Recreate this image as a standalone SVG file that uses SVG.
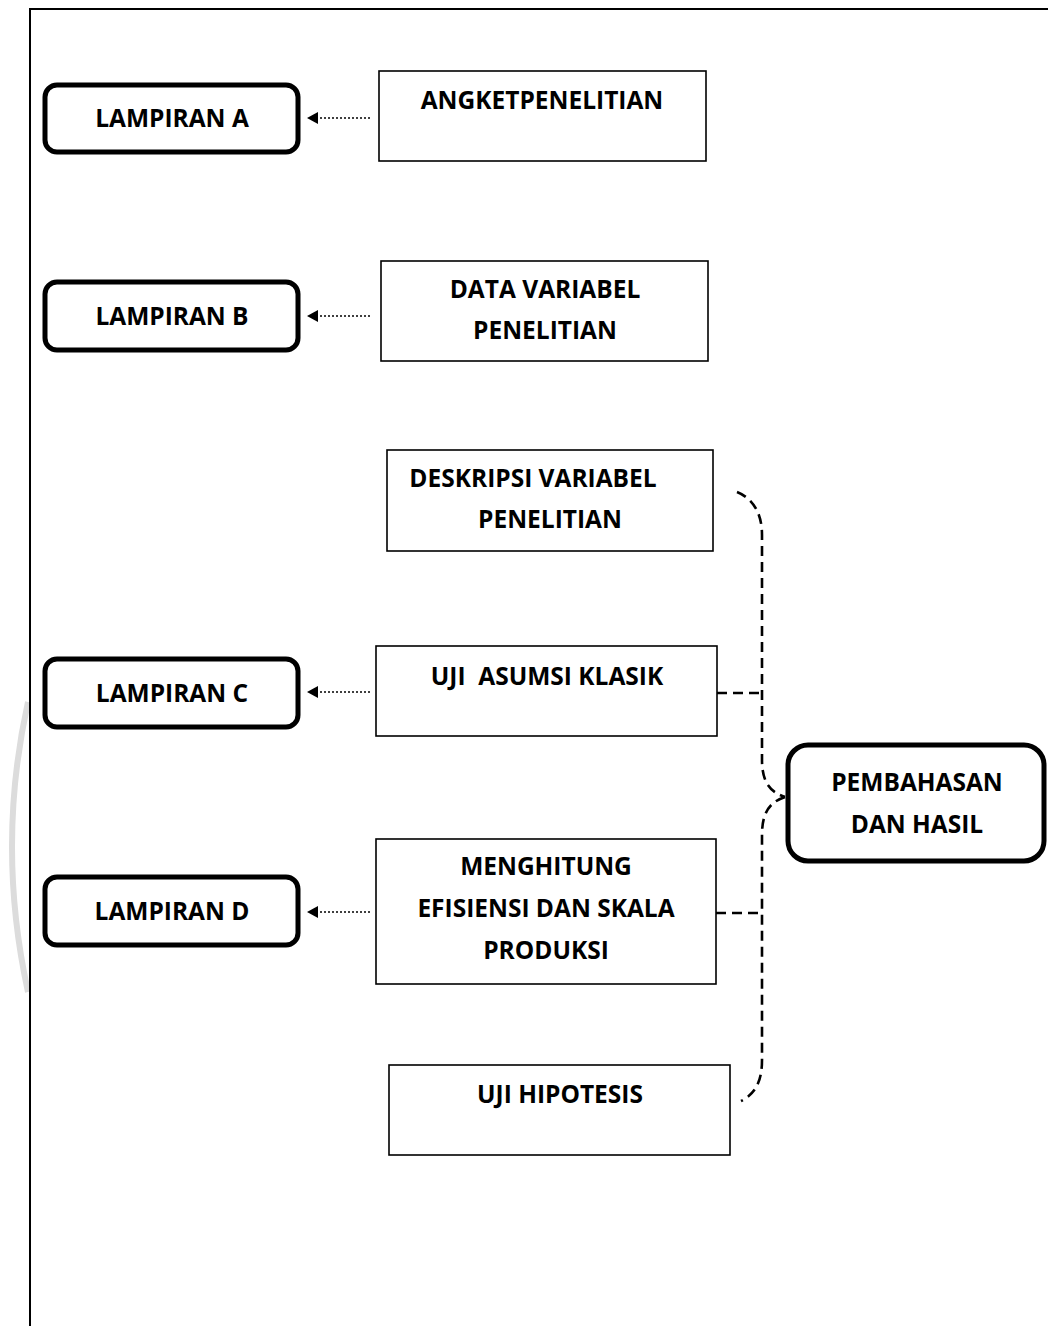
<svg xmlns="http://www.w3.org/2000/svg" width="1048" height="1326" viewBox="0 0 1048 1326">
<defs>
<style>
.lamp{fill:#fff;stroke:#000;stroke-width:5}
.box{fill:#fff;stroke:#000;stroke-width:1.6}
.t{font-family:"Open Sans",Lato,"Liberation Sans",sans-serif;font-weight:bold;font-size:24.5px;fill:#000;text-anchor:middle}
.dot{fill:none;stroke:#000;stroke-width:1.6;stroke-dasharray:2 2}
.dash{fill:none;stroke:#000;stroke-width:2.6;stroke-dasharray:10 6}
</style>
</defs>
<rect width="1048" height="1326" fill="#fff"/>
<path d="M28,702 Q-4,846 28,992" fill="none" stroke="#dcdcdc" stroke-width="6"/>
<path d="M30,1326 L30,9 L1048,9" fill="none" stroke="#000" stroke-width="2"/>

<g id="connectors">
<path class="dot" d="M370,118 L314,118"/><path d="M318,112 L307,118 L318,124 Z"/>
<path class="dot" d="M370,316 L314,316"/><path d="M318,310 L307,316 L318,322 Z"/>
<path class="dot" d="M370,692 L314,692"/><path d="M318,686 L307,692 L318,698 Z"/>
<path class="dot" d="M370,912 L314,912"/><path d="M318,906 L307,912 L318,918 Z"/>
<path class="dash" d="M737,492 C752,498 762,512 762,535 L762,760 C762,782 770,792 785,797"/>
<path class="dash" d="M785,797 C770,802 762,812 762,835 L762,1060 C762,1082 755,1094 741,1101"/>
<path class="dash" d="M717,693 L762,693"/>
<path class="dash" d="M716,913 L762,913"/>
</g>

<g id="lampiran-a"><rect class="lamp" x="45" y="85" width="253" height="67" rx="12"/><text class="t" x="172" y="127">LAMPIRAN A</text></g>
<g id="angket"><rect class="box" x="379" y="71" width="327" height="90"/><text class="t" x="542" y="109">ANGKETPENELITIAN</text></g>
<g id="lampiran-b"><rect class="lamp" x="45" y="282" width="253" height="68" rx="12"/><text class="t" x="172" y="325">LAMPIRAN B</text></g>
<g id="data-variabel"><rect class="box" x="381" y="261" width="327" height="100"/><text class="t" x="545" y="298">DATA VARIABEL</text><text class="t" x="545" y="339">PENELITIAN</text></g>
<g id="deskripsi"><rect class="box" x="387" y="450" width="326" height="101"/><text class="t" x="533" y="487">DESKRIPSI VARIABEL</text><text class="t" x="550" y="528">PENELITIAN</text></g>
<g id="uji-asumsi"><rect class="box" x="376" y="646" width="341" height="90"/><text class="t" x="547" y="685" xml:space="preserve">UJI  ASUMSI KLASIK</text></g>
<g id="lampiran-c"><rect class="lamp" x="45" y="659" width="253" height="68" rx="12"/><text class="t" x="172" y="702">LAMPIRAN C</text></g>
<g id="menghitung"><rect class="box" x="376" y="839" width="340" height="145"/><text class="t" x="546" y="875">MENGHITUNG</text><text class="t" x="546" y="917">EFISIENSI DAN SKALA</text><text class="t" x="546" y="959">PRODUKSI</text></g>
<g id="lampiran-d"><rect class="lamp" x="45" y="877" width="253" height="68" rx="12"/><text class="t" x="172" y="920">LAMPIRAN D</text></g>
<g id="uji-hipotesis"><rect class="box" x="389" y="1065" width="341" height="90"/><text class="t" x="560" y="1103">UJI HIPOTESIS</text></g>
<g id="pembahasan"><rect class="lamp" x="788" y="745" width="256" height="116" rx="20"/><text class="t" x="917" y="791">PEMBAHASAN</text><text class="t" x="917" y="833">DAN HASIL</text></g>
</svg>
